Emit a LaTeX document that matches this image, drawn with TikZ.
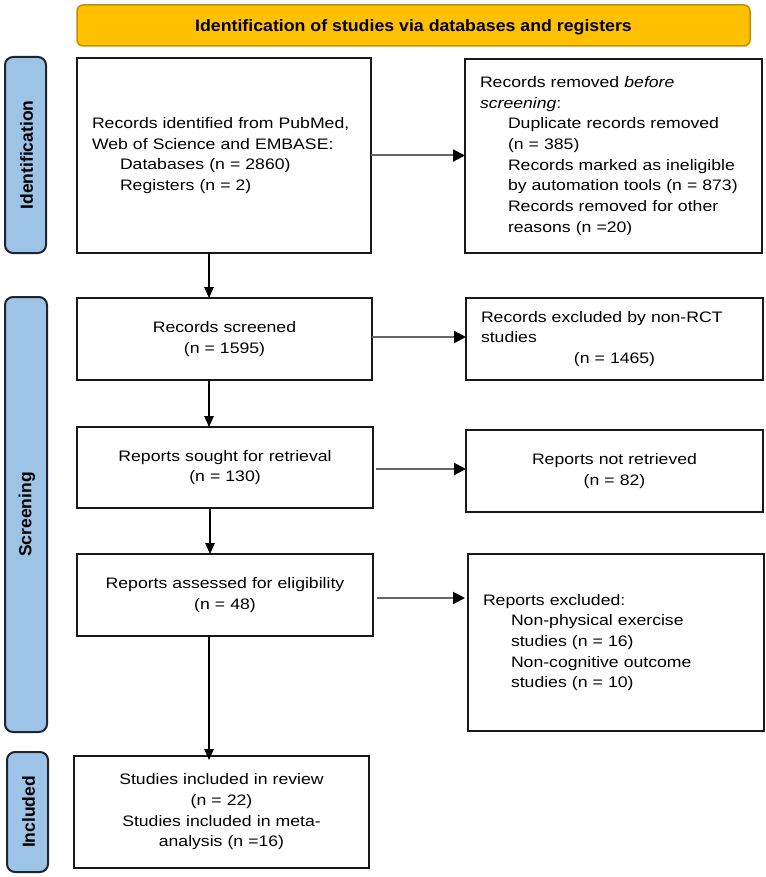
\documentclass[tikz,border=0pt]{standalone}
\usepackage{fontspec}
\setmainfont{Liberation Sans}[FakeStretch=1.16]
\newfontfamily\bannerfont{Liberation Sans}[FakeStretch=1.075]
\newfontfamily\labelfont{Liberation Sans}
\usetikzlibrary{arrows.meta}
\definecolor{bannerfill}{HTML}{FFC000}
\definecolor{bannerline}{HTML}{BF9000}
\definecolor{barfill}{HTML}{9DC3E6}
\definecolor{barline}{HTML}{1E2530}
\definecolor{arrgray}{HTML}{666666}
\newcommand\myind{\hspace*{28pt}}
\tikzset{
  box/.style={draw=black!90, line width=1.9pt, inner xsep=15pt, inner ysep=0pt, outer sep=0pt,
    font=\fontsize{15.2}{20.7}\selectfont, text=black},
  lbox/.style={box, align=left},
  cbox/.style={box, align=center},
  banner/.style={draw=bannerline, fill=bannerfill, line width=1.5pt, rounded corners=6pt,
    inner sep=0pt, outer sep=0pt},
  bannertext/.style={inner sep=0pt, font=\bannerfont\bfseries\fontsize{16.5}{19}\selectfont},
  sidebar/.style={draw=barline, fill=barfill, line width=2pt, rounded corners=8pt, inner sep=0pt, outer sep=0pt},
  sidelabel/.style={rotate=90, inner sep=0pt, font=\labelfont\bfseries\fontsize{17.5}{20}\selectfont},
  harr/.style={draw=arrgray, line width=2pt, -{Triangle[length=12pt,width=12pt,color=black]}},
  varr/.style={draw=black, line width=1.2pt, -{Triangle[length=11pt,width=9.5pt,color=black]}}
}
\begin{document}
\begin{tikzpicture}[x=1pt,y=-1pt]
\useasboundingbox (0,0) rectangle (765,877);
% banner
\node[banner, minimum width=673pt, minimum height=41pt] (ban) at (413.5,25.5) {};
\node[bannertext] (bantext) at ([yshift=-2pt]ban.center)
  {Identification of studies via databases and registers};
% side bars
\node[sidebar, minimum width=41pt, minimum height=196pt] (bar1) at (25.5,155) {};
\node[sidelabel] (lab1) at ([xshift=1pt]bar1.center) {Identification};
\node[sidebar, minimum width=42pt, minimum height=435pt] (bar2) at (26,514.5) {};
\node[sidelabel] (lab2) at ([xshift=1pt]bar2.center) {Screening};
\node[sidebar, minimum width=41pt, minimum height=120pt] (bar3) at (27.5,812) {};
\node[sidelabel] (lab3) at ([xshift=1pt]bar3.center) {Included};
% boxes
\node[lbox, text width=264pt, minimum height=195pt] (A) at (224,155.5)
  {Records identified from PubMed,\\ Web of Science and EMBASE:\\ \myind Databases (n = 2860)\\ \myind Registers (n = 2)};
\node[lbox, text width=267pt, minimum height=194pt] (B) at (613.5,156)
  {Records removed \textit{before}\\ \textit{screening}:\\ \myind Duplicate records removed\\ \myind (n = 385)\\ \myind Records marked as ineligible\\ \myind by automation tools (n = 873)\\ \myind Records removed for other\\ \myind reasons (n =20)};
\node[cbox, text width=265pt, minimum height=82pt] (C) at (224.5,339)
  {Records screened\\(n = 1595)};
\node[lbox, text width=267pt, minimum height=82pt] (D) at (614.5,339)
  {Records excluded by non-RCT\\ studies\\ \makebox[267pt]{(n = 1465)}};
\node[cbox, text width=266pt, minimum height=81pt] (E) at (225,467.5)
  {Reports sought for retrieval\\(n = 130)};
\node[cbox, text width=267pt, minimum height=82pt] (F) at (614.5,471)
  {Reports not retrieved\\(n = 82)};
\node[cbox, text width=266pt, minimum height=82pt] (G) at (225,595)
  {Reports assessed for eligibility\\(n = 48)};
\node[lbox, text width=266pt, minimum height=177pt] (H) at (616,642.5)
  {Reports excluded:\\ \myind Non-physical exercise\\ \myind studies (n = 16)\\ \myind Non-cognitive outcome\\ \myind studies (n = 10)};
\node[cbox, text width=265pt, minimum height=112pt] (I) at (221.5,812)
  {Studies included in review\\(n = 22)\\Studies included in meta-\\analysis (n =16)};
% connectors
\coordinate (vx) at (209,0);
\draw[harr] (A.east) -- (A.east -| B.west);
\draw[harr] ([yshift=2pt]C.east) -- ([yshift=2pt]C.east -| D.west);
\draw[harr] ([xshift=3pt,yshift=-1.5pt]E.east) -- ([yshift=-1.5pt]E.east -| F.west);
\draw[harr] ([xshift=4pt,yshift=-3pt]G.east) -- ([xshift=-3pt,yshift=-3pt]G.east -| H.west);
\draw[varr] (A.south -| vx) -- (C.north -| vx);
\draw[varr] (C.south -| vx) -- (E.north -| vx);
\draw[varr] ([xshift=1pt]E.south -| vx) -- ([xshift=1pt]G.north -| vx);
\draw[varr] (G.south -| vx) -- ([yshift=-4pt]I.north -| vx);
\end{tikzpicture}
\end{document}
